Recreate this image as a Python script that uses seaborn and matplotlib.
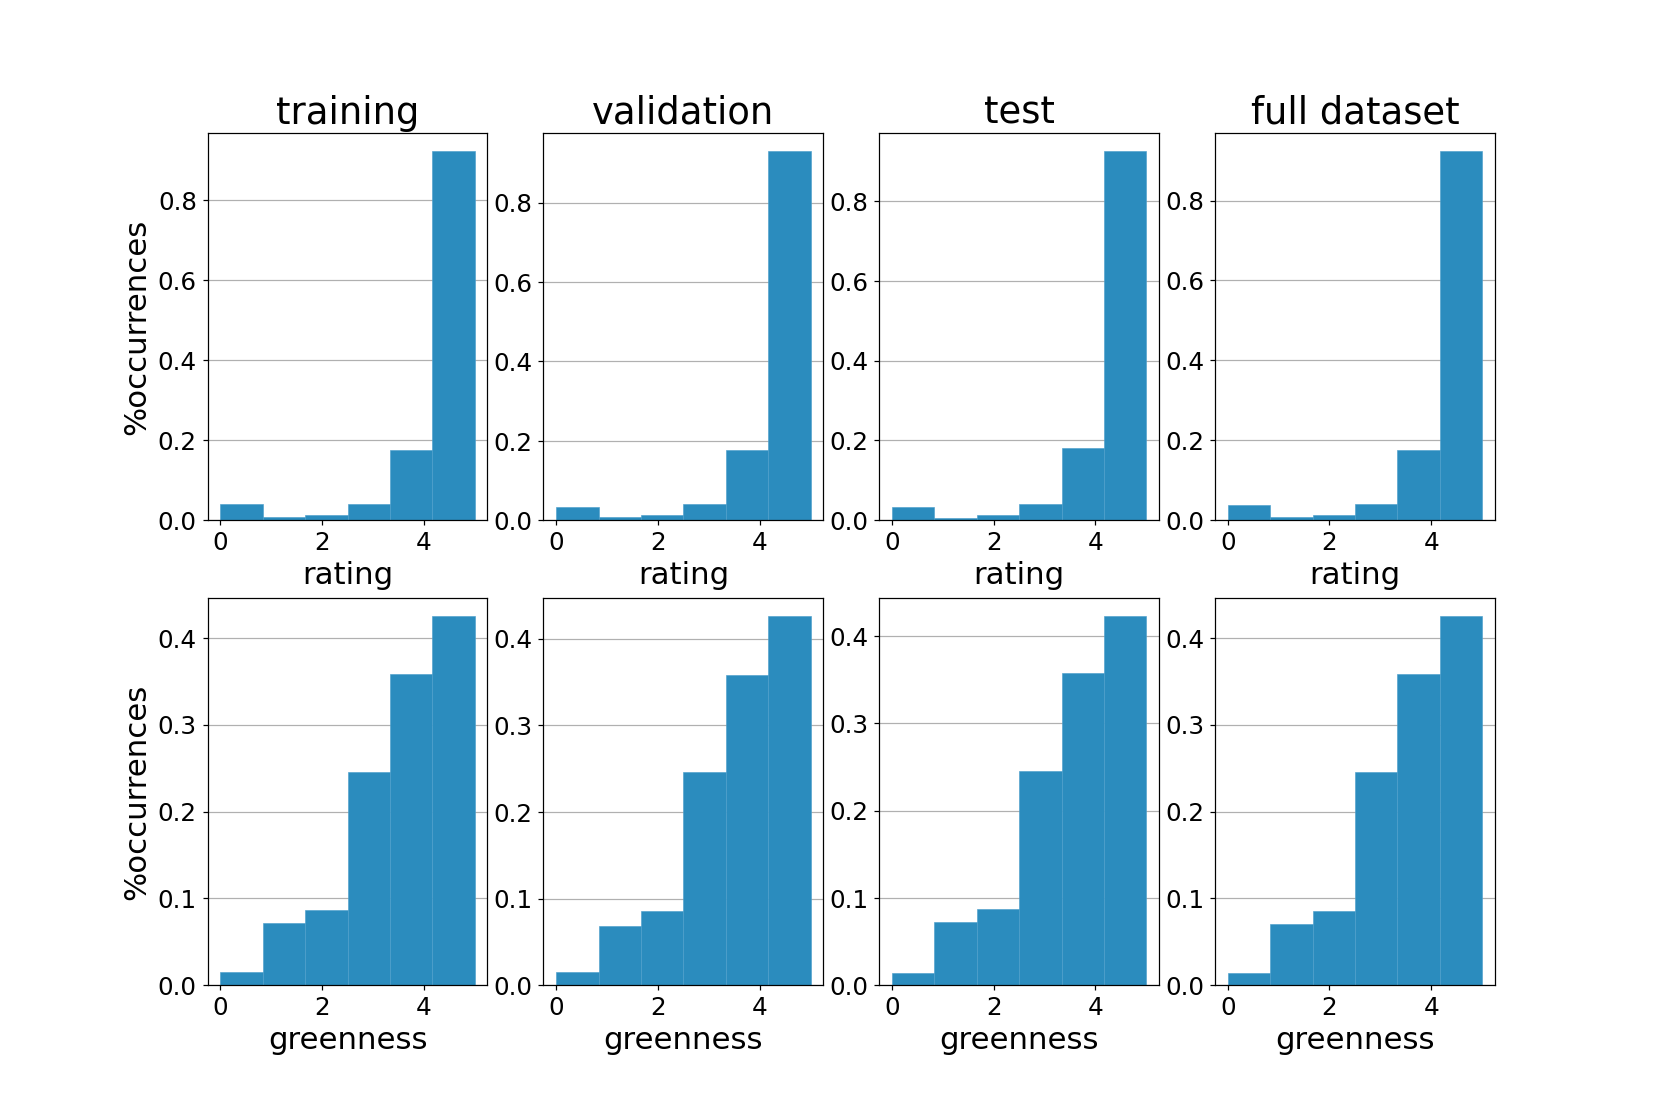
import numpy as np
import pandas as pd
import matplotlib
matplotlib.use("Agg")
import matplotlib.pyplot as plt
import seaborn as sns

# 6 bins over 0..5, shared by all panels
n_bins = 6
bin_range = (0, 5)
bin_edges = np.linspace(bin_range[0], bin_range[1], n_bins + 1)
bin_centers = (bin_edges[:-1] + bin_edges[1:]) / 2

splits = ["training", "validation", "test", "full dataset"]

# density heights
rating = {
    "training":     [0.040, 0.008, 0.013, 0.040, 0.176, 0.922],
    "validation":   [0.032, 0.007, 0.013, 0.040, 0.177, 0.930],
    "test":         [0.033, 0.006, 0.013, 0.040, 0.182, 0.926],
    "full dataset": [0.038, 0.008, 0.013, 0.040, 0.176, 0.924],
}
greenness = {
    "training":     [0.015, 0.072, 0.087, 0.245, 0.358, 0.425],
    "validation":   [0.015, 0.068, 0.086, 0.246, 0.358, 0.426],
    "test":         [0.014, 0.072, 0.087, 0.245, 0.358, 0.423],
    "full dataset": [0.014, 0.070, 0.086, 0.245, 0.358, 0.425],
}

BAR_COLOR = "#2b8cbe"
DPI = 110.73

fig, axes = plt.subplots(2, 4, figsize=(15, 10), dpi=DPI)
fig.subplots_adjust(left=0.125, right=0.9, top=0.88, bottom=0.11,
                    wspace=0.2, hspace=0.2)

for row, (feature, values) in enumerate([("rating", rating), ("greenness", greenness)]):
    for col, split in enumerate(splits):
        ax = axes[row, col]
        df = pd.DataFrame({feature: bin_centers, "w": values[split]})
        sns.histplot(data=df, x=feature, weights="w", bins=n_bins, binrange=bin_range,
                     ax=ax, color=BAR_COLOR, alpha=1.0, edgecolor="#4d9fcb", linewidth=0.4)
        ax.set_axisbelow(True)
        ax.grid(axis="y", color="#b0b0b0", linewidth=0.8)
        ax.set_xticks([0, 2, 4])
        ax.tick_params(labelsize=16)
        ax.set_xlabel(feature, fontsize=20)
        if col == 0:
            ax.set_ylabel("%occurrences", fontsize=20)
        else:
            ax.set_ylabel("")
        if row == 0:
            ax.set_title(split, fontsize=24)

fig.savefig("out.png", dpi=DPI)
